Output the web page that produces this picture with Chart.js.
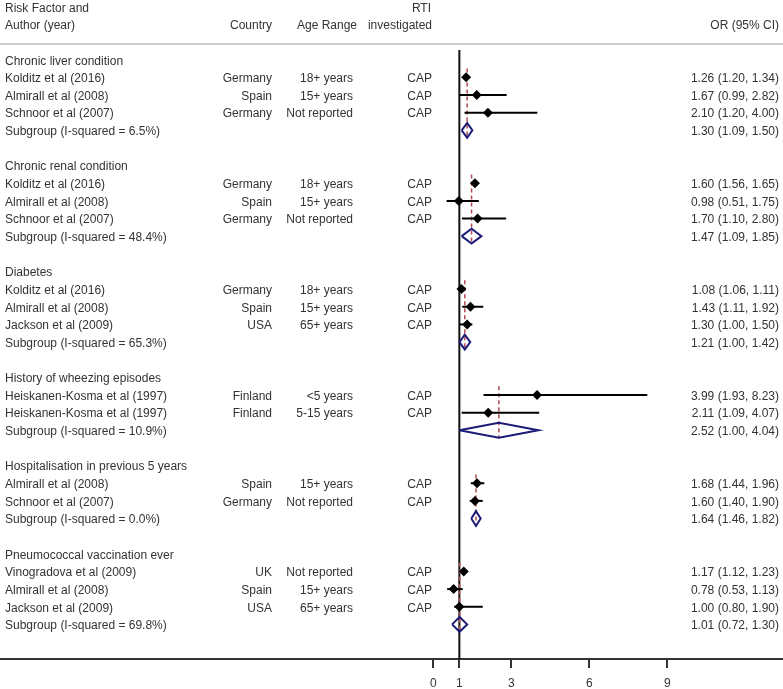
<!DOCTYPE html>
<html>
<head>
<meta charset="utf-8">
<script src="https://cdn.jsdelivr.net/npm/chart.js@4.4.1/dist/chart.umd.min.js"></script>
<style>
	html, body { margin: 0; padding: 0; background: #fff; }
	#wrap { width: 783px; height: 689px; position: relative; }
</style>
</head>
<body>
<div id="wrap"><canvas id="forest"></canvas></div>
<script>
const groupNames = [
	"Chronic liver condition",
	"Chronic renal condition",
	"Diabetes",
	"History of wheezing episodes",
	"Hospitalisation in previous 5 years",
	"Pneumococcal vaccination ever",
];
const studyGroup = [0, 0, 0, 1, 1, 1, 2, 2, 2, 3, 3, 4, 4, 5, 5, 5];
const studyAuthors = [
	"Kolditz et al (2016)", "Almirall et al (2008)", "Schnoor et al (2007)",
	"Kolditz et al (2016)", "Almirall et al (2008)", "Schnoor et al (2007)",
	"Kolditz et al (2016)", "Almirall et al (2008)", "Jackson et al (2009)",
	"Heiskanen-Kosma et al (1997)", "Heiskanen-Kosma et al (1997)",
	"Almirall et al (2008)", "Schnoor et al (2007)",
	"Vinogradova et al (2009)", "Almirall et al (2008)", "Jackson et al (2009)",
];
const studyCountries = [
	"Germany", "Spain", "Germany",
	"Germany", "Spain", "Germany",
	"Germany", "Spain", "USA",
	"Finland", "Finland",
	"Spain", "Germany",
	"UK", "Spain", "USA",
];
const studyAges = [
	"18+ years", "15+ years", "Not reported",
	"18+ years", "15+ years", "Not reported",
	"18+ years", "15+ years", "65+ years",
	"<5 years", "5-15 years",
	"15+ years", "Not reported",
	"Not reported", "15+ years", "65+ years",
];
const studyRti = ["CAP", "CAP", "CAP", "CAP", "CAP", "CAP", "CAP", "CAP", "CAP", "CAP", "CAP", "CAP", "CAP", "CAP", "CAP", "CAP"];
const studyOR = [1.26, 1.67, 2.10, 1.60, 0.98, 1.70, 1.08, 1.43, 1.30, 3.99, 2.11, 1.68, 1.60, 1.17, 0.78, 1.00];
const studyLower = [1.20, 0.99, 1.20, 1.56, 0.51, 1.10, 1.06, 1.11, 1.00, 1.93, 1.09, 1.44, 1.40, 1.12, 0.53, 0.80];
const studyUpper = [1.34, 2.82, 4.00, 1.65, 1.75, 2.80, 1.11, 1.92, 1.50, 8.23, 4.07, 1.96, 1.90, 1.23, 1.13, 1.90];
const subgroupI2 = ["6.5", "48.4", "65.3", "10.9", "0.0", "69.8"];
const subgroupOR = [1.30, 1.47, 1.21, 2.52, 1.64, 1.01];
const subgroupLower = [1.09, 1.09, 1.00, 1.00, 1.46, 0.72];
const subgroupUpper = [1.50, 1.85, 1.42, 4.04, 1.82, 1.30];
const xTicks = [0, 1, 3, 6, 9];

// row layout: group title, studies, subgroup, blank line
const headerRow = [], studyRow = [], subgroupRow = [];
let r = 0;
groupNames.forEach((g, gi) => {
	headerRow[gi] = r++;
	studyGroup.forEach((sg, si) => { if (sg === gi) studyRow[si] = r++; });
	subgroupRow[gi] = r++;
	r++;
});
const firstStudyRow = groupNames.map((g, gi) => studyRow[studyGroup.indexOf(gi)]);

const fmt = v => v.toFixed(2);
const orText = (o, l, u) => `${fmt(o)} (${fmt(l)}, ${fmt(u)})`;

const datasets = [];
// study points
datasets.push({
	data: studyOR.map((v, i) => ({ x: v, y: studyRow[i] })),
	pointStyle: "rectRot", pointRadius: 5, backgroundColor: "#000", borderColor: "#000", borderWidth: 0,
	showLine: false, order: 0,
});
// confidence intervals
studyOR.forEach((v, i) => {
	datasets.push({
		data: [{ x: studyLower[i], y: studyRow[i] }, { x: studyUpper[i], y: studyRow[i] }],
		showLine: true, borderColor: "#000", borderWidth: 2, pointRadius: 0, order: 1,
	});
});
// subgroup diamonds
subgroupOR.forEach((v, gi) => {
	const row = subgroupRow[gi], h = 0.42;
	datasets.push({
		data: [
			{ x: subgroupLower[gi], y: row }, { x: v, y: row - h },
			{ x: subgroupUpper[gi], y: row }, { x: v, y: row + h },
			{ x: subgroupLower[gi], y: row },
		],
		showLine: true, borderColor: "#1c1c78", borderWidth: 2, pointRadius: 0, tension: 0, order: 2,
	});
});
// pooled estimate dashed lines
subgroupOR.forEach((v, gi) => {
	datasets.push({
		data: [{ x: v, y: firstStudyRow[gi] - 0.5 }, { x: v, y: subgroupRow[gi] + 0.45 }],
		showLine: true, borderColor: "#b04a52", borderWidth: 1.5, borderDash: [4, 3], pointRadius: 0, order: 3,
	});
});
// null line at 1
datasets.push({
	data: [{ x: 1, y: -0.55 }, { x: 1, y: 40 }],
	showLine: true, borderColor: "#111", borderWidth: 2, pointRadius: 0, order: 4,
});

const textPlugin = {
	id: "forestText",
	beforeDatasetsDraw(chart) {
		const ctx = chart.ctx, y = chart.scales.y;
		const py = Math.round(y.getPixelForValue(-0.88));
		ctx.save();
		ctx.strokeStyle = "#cccccc";
		ctx.lineWidth = 2;
		ctx.beginPath();
		ctx.moveTo(0, py);
		ctx.lineTo(chart.width, py);
		ctx.stroke();
		ctx.restore();
	},
	afterDraw(chart) {
		const ctx = chart.ctx, y = chart.scales.y;
		ctx.save();
		ctx.font = '12px "Liberation Sans", Arial, sans-serif';
		ctx.fillStyle = "#333";
		ctx.textBaseline = "middle";
		const put = (txt, x, row, align) => {
			ctx.textAlign = align;
			ctx.fillText(txt, x, y.getPixelForValue(row) + 1.5);
		};
		put("Risk Factor and", 5, -3, "left");
		put("Author (year)", 5, -2, "left");
		put("Country", 272, -2, "right");
		put("Age Range", 357, -2, "right");
		put("RTI", 431, -3, "right");
		put("investigated", 432, -2, "right");
		put("OR (95% CI)", 779, -2, "right");
		groupNames.forEach((g, gi) => {
			put(g, 5, headerRow[gi], "left");
			put(`Subgroup (I-squared = ${subgroupI2[gi]}%)`, 5, subgroupRow[gi], "left");
			put(orText(subgroupOR[gi], subgroupLower[gi], subgroupUpper[gi]), 779, subgroupRow[gi], "right");
		});
		studyAuthors.forEach((a, i) => {
			const row = studyRow[i];
			put(a, 5, row, "left");
			put(studyCountries[i], 272, row, "right");
			put(studyAges[i], 353, row, "right");
			put(studyRti[i], 432, row, "right");
			put(orText(studyOR[i], studyLower[i], studyUpper[i]), 779, row, "right");
		});
		ctx.restore();
	},
};

new Chart(document.getElementById("forest"), {
	type: "scatter",
	data: { datasets },
	options: {
		responsive: true,
		maintainAspectRatio: false,
		animation: false,
		devicePixelRatio: 1,
		layout: { autoPadding: false, padding: 0 },
		plugins: { legend: { display: false }, tooltip: { enabled: false } },
		scales: {
			x: {
				type: "linear",
				min: -16.67,
				max: 13.45,
				afterBuildTicks: axis => { axis.ticks = xTicks.map(v => ({ value: v })); },
				afterFit: axis => { axis.height = 30; },
				ticks: { color: "#333", padding: 8, font: { size: 12, family: '"Liberation Sans", Arial, sans-serif' } },
				grid: { drawOnChartArea: false, drawTicks: true, tickLength: 9, color: "#333", lineWidth: 2 },
				border: { color: "#333", width: 2 },
			},
			y: {
				type: "linear",
				display: false,
				reverse: true,
				min: -3.383,
				max: 33.96,
			},
		},
	},
	plugins: [textPlugin],
});
</script>
</body>
</html>
